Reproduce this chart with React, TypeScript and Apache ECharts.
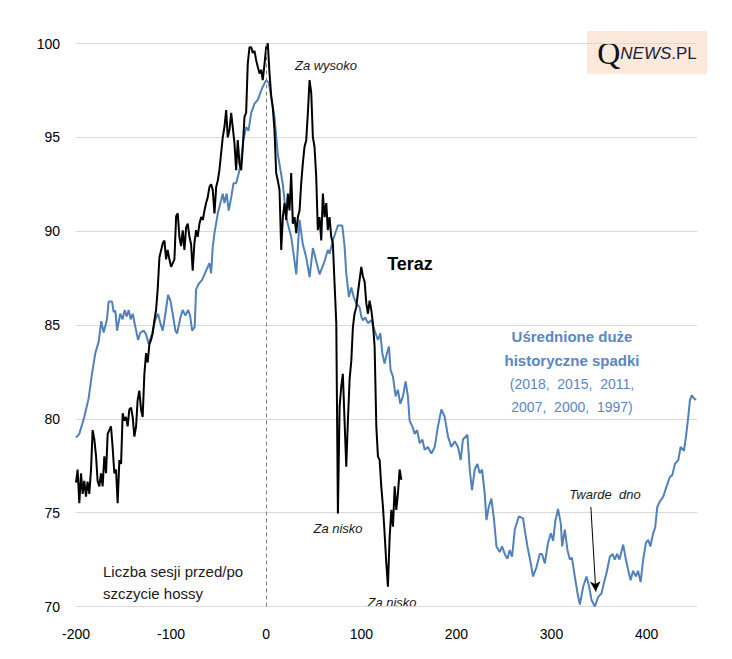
import React, { useEffect, useRef } from "react";
import * as echarts from "echarts";

// Averaged large historical declines (blue)
const blueX = [-200, -196.5, -191.3, -186.7, -183.2, -179.7, -176.2, -173.4, -171, -167.4, -165.7, -162.1, -160.4, -158.6, -156.8, -155, -153.4, -151, -148.8, -146.7, -144.6, -142.5, -140.4, -137.6, -134.7, -132.3, -128.8, -126.3, -123.6, -120, -116.5, -113.7, -111.3, -108.8, -106, -103.2, -100.7, -98.3, -95.5, -93.7, -90.2, -87.8, -84.9, -82.1, -80, -77.9, -75.2, -73.7, -70.9, -67.4, -63.2, -59.7, -57.9, -56.2, -54.4, -50.9, -47.4, -45.7, -43.9, -41.6, -39.4, -36.8, -34.4, -31.6, -28.8, -26.3, -23.9, -21.1, -18.6, -15.8, -12.3, -8.8, -6.3, -3.6, 0, 2.7, 8.7, 12.2, 17.5, 21.1, 26.3, 29.8, 31.6, 35.1, 38.5, 42.1, 45.6, 49.1, 52.6, 56.1, 61.4, 64.8, 66.6, 70.1, 75.4, 80, 82.4, 84.2, 87, 89.5, 91.9, 94.7, 98.2, 100, 101.7, 104, 107, 110.5, 114, 117.5, 120, 122.1, 124.5, 127, 129.1, 130.8, 133.3, 136.1, 138.5, 141, 143.8, 146.6, 149, 150.8, 153.7, 156.1, 158.7, 161.4, 164.2, 166.6, 170, 173.7, 177.2, 180.6, 184.2, 187.7, 191.2, 194.7, 198.2, 201.7, 204.5, 206.9, 211.6, 214, 216.4, 219.3, 222.1, 224.5, 227, 229.8, 231.6, 234, 236.8, 239.6, 242.1, 245.6, 248, 250.8, 253.7, 256, 258.5, 261.4, 265.6, 270.1, 271.5, 274.7, 278.2, 280.6, 284.2, 287.7, 290, 293, 296.4, 299.3, 301.7, 304.2, 306.9, 309.8, 311.2, 314, 316.8, 319.3, 321.5, 324.5, 327.4, 329.8, 333.3, 336.8, 339.6, 342.1, 345.6, 349, 352.6, 355.1, 357.9, 361.4, 364.2, 366.5, 369, 371.5, 375.4, 378.2, 380.6, 383.2, 385.8, 388.7, 391, 393.7, 396.4, 399.3, 401.7, 404, 406.9, 409, 411.2, 414, 417.5, 421, 424.5, 427, 429.8, 433.3, 435.8, 439.3, 441.4, 443.8, 445.6, 447.4, 449.8, 451.9];
const blueY = [79.0, 79.2, 80.1, 81.1, 82.4, 83.5, 84.1, 85.2, 84.6, 85.3, 86.25, 86.25, 85.7, 85.75, 84.7, 85.2, 85.6, 85.3, 85.8, 85.45, 85.8, 85.3, 85.6, 84.9, 84.2, 84.6, 84.7, 84.5, 84.0, 84.55, 85.3, 85.6, 85.1, 84.7, 85.6, 86.6, 86.3, 85.6, 84.7, 84.55, 85.4, 85.8, 85.5, 85.8, 85.5, 84.7, 84.9, 86.9, 87.2, 87.4, 87.9, 88.3, 87.75, 89.15, 89.9, 90.95, 91.65, 92.0, 91.5, 92.0, 91.1, 91.8, 92.55, 92.55, 93.1, 93.8, 94.85, 95.55, 95.35, 96.3, 96.8, 97.0, 97.35, 97.7, 98.05, 97.9, 96.1, 94.1, 92.5, 90.7, 89.7, 88.4, 87.7, 90.6, 89.3, 88.6, 87.55, 89.1, 88.4, 87.7, 88.4, 89.0, 88.8, 89.5, 90.3, 90.3, 89.2, 87.75, 86.5, 87.0, 86.5, 86.15, 85.95, 85.45, 85.25, 85.4, 85.1, 85.25, 84.7, 84.2, 84.55, 83.5, 82.95, 83.5, 83.85, 82.6, 82.25, 81.2, 81.55, 80.8, 81.2, 82.0, 81.2, 79.9, 79.6, 79.2, 79.4, 78.7, 78.9, 78.35, 78.5, 78.15, 78.5, 79.6, 80.5, 80.1, 79.05, 78.5, 78.8, 78.5, 77.8, 78.9, 79.15, 77.3, 76.2, 77.3, 77.6, 77.1, 77.3, 76.0, 74.6, 75.3, 75.75, 74.6, 73.2, 72.9, 73.2, 72.8, 72.55, 73.0, 72.65, 74.1, 74.8, 74.7, 74.2, 73.2, 72.3, 71.6, 72.1, 72.8, 72.8, 72.3, 73.4, 73.9, 73.5, 74.6, 75.2, 74.4, 73.2, 74.1, 73.0, 72.5, 72.6, 71.6, 70.7, 70.1, 71.05, 71.6, 71.05, 70.35, 70.0, 70.5, 70.7, 71.25, 71.8, 72.65, 72.8, 72.5, 72.8, 72.5, 73.3, 72.5, 71.95, 71.4, 71.9, 71.6, 71.9, 71.3, 72.5, 73.4, 73.55, 73.2, 73.9, 74.2, 75.3, 75.6, 75.85, 76.4, 76.9, 77.0, 77.6, 77.8, 78.5, 78.3, 79.05, 80.1, 81.0, 81.25, 81.1, 81.0];

// Current market (black)
const blackX = [-200, -198.3, -196.5, -194.7, -193, -191.3, -189.5, -187.8, -186, -184.2, -182.5, -180.7, -178.9, -177.3, -175.5, -173.7, -172, -170.2, -168.4, -166.7, -165, -163.2, -161.5, -159.7, -157.9, -156.2, -154.4, -152.6, -150.9, -149.2, -147.4, -145.7, -143.9, -142.1, -140.4, -138.6, -136.8, -135.2, -133.4, -131.6, -129.9, -128.1, -126.3, -124.6, -122.8, -121.1, -119.4, -117.6, -115.8, -114.1, -112.3, -108.8, -107, -105.3, -103.6, -101.8, -100, -98.3, -96.5, -94.7, -93, -91.3, -89.5, -87.8, -86, -84.2, -82.5, -80.7, -79, -77.3, -75.5, -73.7, -72, -70.2, -68.4, -66.6, -64.9, -63.2, -61.5, -59.7, -57.9, -56.2, -54.4, -52.6, -50.9, -49.2, -47.4, -45.7, -43.9, -42.1, -40.4, -38.6, -36.8, -35.2, -33.4, -31.6, -29.9, -28.1, -26.3, -24.6, -22.8, -21.1, -19.4, -17.6, -15.8, -14.1, -12.3, -10.5, -8.8, -7, -5.3, -3.6, -1.8, 0, 1.7, 3.5, 5.3, 6.9, 8.7, 10.5, 12.2, 14, 15.8, 17.5, 19.3, 21.1, 22.7, 24.5, 26.3, 28, 29.8, 31.6, 33.3, 35.1, 36.8, 38.5, 40.3, 42.1, 43.8, 45.6, 47.4, 49.1, 50.8, 52.6, 54.3, 56.1, 57.9, 59.6, 61.4, 63.2, 64.8, 66.6, 68.4, 70.1, 71.9, 73.7, 75.4, 77.2, 78.9, 80.6, 82.4, 84.2, 85.9, 87.7, 89.5, 91.2, 92.9, 94.7, 96.4, 98.2, 100, 101.7, 103.5, 105.3, 107, 108.7, 110.5, 112.2, 114, 115.8, 117.5, 119.3, 121, 122.8, 124.5, 126.3, 128, 129.8, 131.6, 133.3, 135.1, 136.8, 138.5, 140.3, 142.1];
const blackY = [76.6, 77.3, 75.5, 77.1, 76.0, 76.7, 75.85, 76.65, 76.0, 77.3, 79.4, 78.9, 78.0, 76.7, 76.4, 77.1, 76.4, 78.0, 77.1, 79.2, 79.4, 79.6, 78.5, 77.1, 77.3, 75.5, 77.8, 77.6, 80.3, 79.9, 80.1, 79.6, 80.5, 80.6, 80.1, 79.05, 79.6, 81.0, 81.5, 80.5, 80.1, 82.4, 83.5, 83.0, 84.0, 84.2, 84.55, 85.25, 85.8, 86.9, 88.6, 89.35, 89.5, 88.5, 89.0, 88.5, 88.1, 88.3, 88.5, 90.8, 90.95, 89.7, 89.2, 90.05, 89.0, 90.2, 90.4, 89.7, 89.3, 87.9, 89.35, 90.05, 89.7, 90.4, 90.75, 90.6, 91.1, 91.5, 91.8, 92.35, 92.5, 92.2, 90.95, 92.35, 92.7, 93.25, 94.15, 95.0, 95.55, 96.45, 95.0, 95.4, 96.3, 95.55, 94.7, 93.25, 94.85, 93.6, 93.25, 94.5, 96.1, 96.3, 98.9, 99.8, 99.8, 99.5, 99.6, 99.1, 98.75, 98.4, 98.6, 98.05, 98.9, 99.8, 100.0, 98.4, 97.2, 96.6, 95.4, 93.1, 92.7, 92.2, 89.0, 90.75, 91.5, 90.6, 92.0, 91.1, 93.1, 90.4, 90.75, 89.9, 90.75, 91.1, 92.55, 93.6, 94.5, 94.85, 96.3, 98.05, 97.35, 95.0, 94.5, 92.9, 90.05, 90.75, 89.5, 92.0, 90.75, 91.5, 90.05, 90.75, 89.7, 89.35, 87.2, 85.1, 74.95, 80.65, 81.7, 82.4, 79.9, 77.45, 79.9, 82.1, 83.1, 84.9, 85.6, 85.95, 86.7, 87.4, 88.1, 87.6, 87.3, 86.15, 85.6, 86.3, 85.8, 85.1, 83.85, 79.6, 78.0, 77.8, 76.4, 75.3, 73.9, 72.3, 71.05, 73.7, 75.15, 74.25, 76.4, 75.15, 76.0, 77.3, 76.75];

const xTickLabels = [-200, -100, 0, 100, 200, 300, 400];
const yTickLabels = [70, 75, 80, 85, 90, 95, 100];

const sourceNote = ["(2018,  2015,  2011,", "2007,  2000,  1997)"];

export default function App() {
  const ref = useRef<HTMLDivElement>(null);

  useEffect(() => {
    if (!ref.current) return;
    const chart = echarts.init(ref.current, undefined, { renderer: "svg" });
    const blue = blueX.map((x, i) => [x, blueY[i]]);
    const black = blackX.map((x, i) => [x, blackY[i]]);
    const font = "'Liberation Sans', Arial, sans-serif";
    const italic = (text: string, x: number, y: number) => ({
      type: "text",
      x,
      y,
      style: {
        text,
        font: `italic 13px ${font}`,
        fill: "#1a1a1a",
        align: "center",
        verticalAlign: "middle",
      },
    });
    const blueText = (text: string, y: number, bold: boolean) => ({
      type: "text",
      x: 572,
      y,
      style: {
        text,
        font: `${bold ? "bold 15px" : "14px"} ${font}`,
        fill: "#5a86c5",
        align: "center",
        verticalAlign: "middle",
      },
    });
    chart.setOption({
      animation: false,
      backgroundColor: "#ffffff",
      grid: { left: 76, right: 35, top: 43.5, bottom: 52.5, containLabel: false },
      xAxis: {
        type: "value",
        min: xTickLabels[0],
        max: 453,
        interval: 100,
        axisLine: { show: false },
        axisTick: { show: false },
        splitLine: { show: false },
        axisLabel: {
          margin: 20,
          color: "#000",
          fontSize: 14,
          fontFamily: font,
          showMaxLabel: false,
          formatter: (v: number) => (xTickLabels.includes(v) ? String(v) : ""),
        },
      },
      yAxis: {
        type: "value",
        min: yTickLabels[0],
        max: yTickLabels[yTickLabels.length - 1],
        interval: 5,
        axisLine: { show: false },
        axisTick: { show: false },
        splitLine: { show: true, lineStyle: { color: "#d9d9d9", width: 1 } },
        axisLabel: { margin: 16, color: "#000", fontSize: 14, fontFamily: font },
      },
      series: [
        {
          name: "Uśrednione duże historyczne spadki",
          type: "line",
          data: blue,
          showSymbol: false,
          symbol: "none",
          lineStyle: { color: "#4f81bd", width: 2 },
          z: 2,
          markLine: {
            silent: true,
            symbol: ["none", "arrow"],
            symbolSize: [8, 10],
            label: { show: false },
            lineStyle: { color: "#000", width: 1, type: "solid" },
            data: [[{ coord: [341.4, 75.3] }, { coord: [346.6, 70.8] }]],
          },
        },
        {
          name: "Teraz",
          type: "line",
          data: black,
          showSymbol: false,
          symbol: "none",
          lineStyle: { color: "#000000", width: 2 },
          z: 3,
          markLine: {
            silent: true,
            symbol: ["none", "none"],
            label: { show: false },
            lineStyle: { color: "#7f7f7f", width: 1, type: [4, 3] },
            data: [{ xAxis: 0 }],
          },
        },
      ],
      graphic: [
        {
          type: "rect",
          shape: { x: 587, y: 31, width: 120, height: 43 },
          style: { fill: "#fde9dc" },
        },
        {
          type: "text",
          x: 647,
          y: 53,
          style: {
            text: "{q|Q}{n|NEWS}{p|.PL}",
            align: "center",
            verticalAlign: "middle",
            rich: {
              q: { font: "32px 'Liberation Serif', serif", fill: "#111" },
              n: { font: `italic 17px ${font}`, fill: "#1a2233" },
              p: { font: `17px ${font}`, fill: "#1a2233" },
            },
          },
        },
        italic("Za wysoko", 326, 65),
        italic("Za nisko", 338, 528),
        italic("Za nisko", 392, 602),
        italic("Twarde  dno", 605, 494),
        {
          type: "text",
          x: 410,
          y: 264,
          style: {
            text: "Teraz",
            font: `bold 18px ${font}`,
            fill: "#000",
            align: "center",
            verticalAlign: "middle",
          },
        },
        blueText("Uśrednione duże", 336, true),
        blueText("historyczne spadki", 360, true),
        blueText(sourceNote[0], 384, false),
        blueText(sourceNote[1], 407, false),
        {
          type: "text",
          x: 103,
          y: 571,
          style: {
            text: "Liczba sesji przed/po",
            font: `15px ${font}`,
            fill: "#1a1a1a",
            align: "left",
            verticalAlign: "middle",
          },
        },
        {
          type: "text",
          x: 103,
          y: 593,
          style: {
            text: "szczycie hossy",
            font: `15px ${font}`,
            fill: "#1a1a1a",
            align: "left",
            verticalAlign: "middle",
          },
        },
      ],
    });
    return () => chart.dispose();
  }, []);

  return <div ref={ref} style={{ width: 732, height: 659, position: "absolute", left: 0, top: 0 }} />;
}
